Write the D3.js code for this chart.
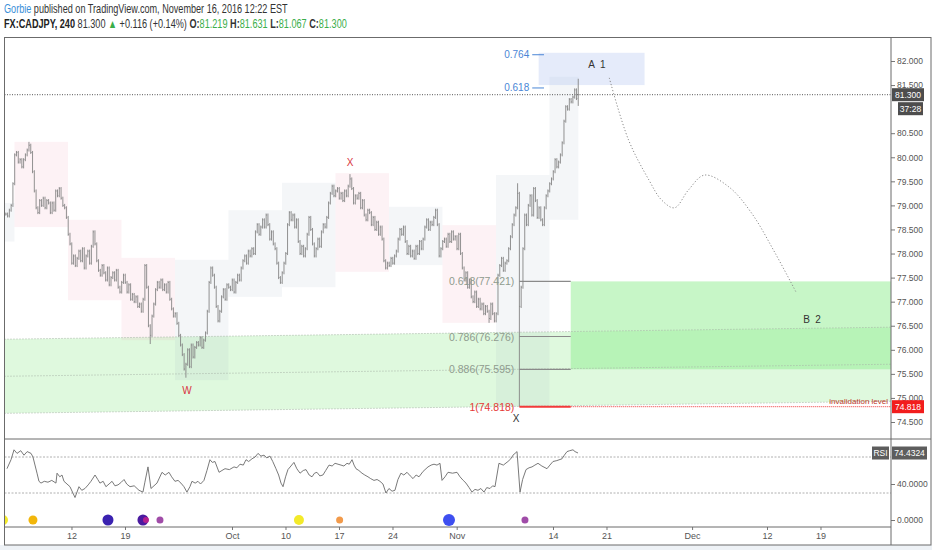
<!DOCTYPE html>
<html>
<head>
<meta charset="utf-8">
<script src="https://cdn.jsdelivr.net/npm/d3@7"></script>
<style>
  body { margin: 0; background: #fff; }
  svg text { font-family: "Liberation Sans", Arial, sans-serif; }
</style>
</head>
<body>
<svg id="chart" width="932" height="550"></svg>
<script>
// ---- data (days = trading days counted from Mon Sep 12 2016, 6 x 4h bars per day) ----
const firstDay = -6; // Fri Sep 2
const closes = [
  [78.82, 78.78, 78.90, 79.00, 79.45, 80.05],
  [80.10, 79.90, 79.95, 79.80, 79.95, 80.05],
  [80.15, 80.25, 80.10, 79.70, 79.30, 78.95],
  [78.85, 79.10, 79.00, 79.15, 78.95, 79.10],
  [79.05, 78.85, 79.05, 78.90, 79.30, 79.20],
  [79.35, 79.15, 79.00, 78.95, 78.75, 78.40],
  [78.20, 77.80, 77.95, 77.75, 77.90, 78.05], // Sep 12
  [77.85, 78.10, 77.70, 77.95, 78.05, 77.80],
  [78.15, 78.45, 78.20, 77.85, 77.65, 77.55],
  [77.75, 77.60, 77.45, 77.70, 77.35, 77.50],
  [77.60, 77.45, 77.65, 77.30, 77.20, 77.40],
  [77.55, 77.40, 77.20, 77.35, 77.05, 77.15], // Sep 19
  [77.00, 77.10, 76.90, 76.95, 76.80, 77.05],
  [77.75, 77.30, 76.50, 76.30, 76.70, 76.95],
  [77.25, 77.40, 77.30, 77.45, 77.25, 77.35],
  [77.20, 77.40, 77.05, 76.85, 76.70, 76.75],
  [76.55, 76.30, 76.10, 75.90, 75.60, 75.70], // Sep 26
  [76.00, 75.65, 76.10, 75.85, 76.05, 76.15],
  [76.10, 76.25, 76.05, 76.20, 76.35, 76.80],
  [77.40, 77.70, 77.55, 77.30, 76.90, 76.60],
  [76.80, 77.10, 77.25, 77.05, 77.35, 77.30],
  [77.25, 77.45, 77.20, 77.40, 77.55, 77.45], // Oct 3
  [77.70, 77.85, 77.95, 77.80, 78.05, 77.95],
  [78.10, 78.00, 78.45, 78.60, 78.40, 78.55],
  [78.70, 78.55, 78.80, 78.60, 78.30, 78.45],
  [78.20, 78.10, 77.80, 77.50, 77.40, 77.60],
  [77.80, 78.00, 78.60, 78.85, 78.70, 78.80], // Oct 10
  [78.55, 78.70, 78.25, 78.00, 78.15, 77.95],
  [78.10, 78.40, 78.75, 78.50, 78.20, 77.95],
  [78.10, 78.30, 78.15, 78.45, 78.60, 78.55],
  [78.75, 79.05, 79.25, 79.40, 79.20, 79.30],
  [79.35, 79.15, 79.25, 79.10, 79.30, 79.20], // Oct 17
  [79.40, 79.55, 79.35, 79.05, 79.20, 79.15],
  [79.25, 78.95, 79.10, 78.80, 78.70, 78.90],
  [78.85, 78.60, 78.75, 78.50, 78.65, 78.40],
  [78.55, 78.30, 77.85, 77.70, 77.80, 77.75],
  [77.90, 77.80, 77.95, 78.05, 78.30, 78.50], // Oct 24
  [78.40, 78.55, 78.25, 78.00, 78.15, 77.95],
  [78.05, 77.90, 78.15, 78.00, 78.25, 78.10],
  [78.30, 78.55, 78.70, 78.50, 78.65, 78.60],
  [78.75, 78.90, 78.60, 77.95, 78.10, 78.25],
  [78.30, 78.15, 78.40, 78.25, 78.45, 78.30], // Oct 31
  [78.35, 78.10, 78.40, 78.00, 77.70, 77.45],
  [77.60, 77.30, 77.45, 77.10, 77.00, 77.20],
  [76.90, 77.05, 76.85, 76.95, 76.75, 76.90],
  [76.80, 76.65, 76.95, 76.75, 76.60, 76.75],
  [77.55, 77.75, 77.90, 77.65, 77.80, 77.85], // Nov 7
  [78.10, 78.35, 78.60, 78.80, 78.95, 79.25],
  [76.90, 77.30, 78.10, 78.80, 78.60, 79.00],
  [79.20, 78.80, 79.35, 79.10, 78.75, 78.95],
  [78.70, 78.60, 78.95, 79.20, 79.30, 79.45],
  [79.55, 79.70, 79.95, 79.80, 79.90, 80.05], // Nov 14
  [80.30, 80.75, 81.05, 81.00, 81.20, 81.15],
  [81.25, 81.40, 81.22, 81.30]
];
// wick extremes: [day, bar, price]
const spikes = [
  [-4, 1, 80.32], [7, 3, 76.12], [10, 5, 75.42], [26, 1, 79.65],
  [39, 1, 76.56], [41, 5, 79.46], [42, 0, 74.818], [47, 3, 81.631], [47, 3, 81.067]
];

// weekly range boxes
const weekStarts = [-7, -5, 0, 5, 10, 15, 20, 25, 30, 35, 40, 45];
const weekEnds   = [-5, 0, 5, 10, 15, 20, 25, 30, 35, 40, 45, 47.7];
const weekHighs  = [79.05, 80.32, 78.70, 77.91, 77.87, 78.90, 79.47, 79.67, 78.97, 78.59, 79.63, 81.67];
const weekLows   = [78.25, 78.55, 77.03, 76.20, 75.37, 77.10, 77.30, 77.62, 77.76, 76.56, 74.818, 78.70];
const weekKinds  = ['up', 'down', 'down', 'down', 'up', 'up', 'up', 'down', 'up', 'down', 'up', 'up'];

// rising support channel
const channelDays   = [-6.12, 76.73];
const channelTop    = [76.22, 76.47];
const channelMid    = [75.45, 75.70];
const channelBottom = [74.68, 74.93];

// fib retracement from X low
const fibDays = [42, 46.8];
const fibLevels = [0.618, 0.786, 0.886, 1];
const fibPrices = [77.421, 76.276, 75.595, 74.818];

// fib extension marks near A
const extDays = [43.2, 44.3];
const extLevels = [0.764, 0.618];
const extPrices = [82.13, 81.44];

// target zones
const targetBox = { start: 46.8, high: 77.421, low: 75.595 };
const aBox = { start: 43.8, end: 53.7, high: 82.17, low: 81.50 };

// projected path A -> B
const pathDays   = [50.4, 52.2, 54.1, 55.3, 56.5, 57.8, 59.3, 61.6, 63.7, 65.9, 67.9];
const pathPrices = [81.65, 80.36, 79.53, 79.11, 78.95, 79.32, 79.63, 79.38, 78.84, 78.01, 77.18];

// wave labels
const waveText   = ['W', 'X', 'X', 'A  1', 'B  2'];
const waveDays   = [10.93, 26.17, 41.68, 49.25, 69.35];
const wavePrices = [75.16, 79.90, 74.58, 81.94, 76.64];
const waveKinds  = ['red', 'red', 'dark', 'dark', 'dark'];

const lastPrice = 81.300;
const invalidation = 74.818;

// RSI
const rsiPoints = [
  [-5.89,57],[-5.51,67],[-5.23,78],[-4.95,74],[-4.6,77],[-4.3,72],[-4.0,76],[-3.64,74],[-3.46,70],[-3.08,52],
  [-2.90,43],[-2.71,41],[-2.4,43],[-2.06,42],[-1.7,44],[-1.31,41],[-1.21,52],[-0.95,48],[-0.75,50],[-0.56,43],
  [0,37],[0.47,25],[0.84,37],[1.1,33],[1.40,35],[1.7,39],[1.96,43],[2.34,50],[2.6,45],[2.80,41],
  [3.1,43],[3.36,37],[3.65,40],[3.93,43],[4.2,38],[4.49,39],[4.8,42],[5.05,45],[5.3,40],[5.61,37],
  [6.0,38],[6.45,33],[6.82,31],[7.0,42],[7.29,59],[7.57,35],[7.85,38],[8.13,41],[8.60,53],[8.9,50],
  [9.25,53],[9.5,48],[9.81,43],[10.1,44],[10.37,41],[10.65,37],[10.93,31],[11.21,37],[11.40,43],[11.7,41],
  [11.96,43],[12.2,40],[12.52,44],[12.8,55],[13.08,67],[13.3,64],[13.55,65],[13.93,53],[14.2,55],[14.49,57],
  [14.9,56],[15.33,59],[15.6,58],[15.89,62],[16.2,61],[16.45,67],[16.7,65],[17.01,68],[17.3,70],[17.57,74],
  [17.85,71],[18.13,72],[18.4,69],[18.69,71],[18.95,65],[19.25,57],[19.5,50],[19.72,41],[19.91,37],[20.15,48],
  [20.37,56],[20.65,60],[20.93,64],[21.2,57],[21.50,52],[21.8,55],[22.06,56],[22.35,50],[22.62,48],[22.85,52],
  [23.08,53],[23.35,49],[23.64,50],[23.9,55],[24.21,61],[24.5,60],[24.77,63],[25.05,62],[25.33,61],[25.6,60],
  [25.89,63],[26.1,62],[26.36,67],[26.55,61],[26.73,57],[27.0,55],[27.29,52],[27.55,50],[27.85,48],[28.1,46],
  [28.41,44],[28.7,45],[28.97,43],[29.25,40],[29.53,30],[29.81,35],[30.1,32],[30.37,33],[30.65,45],[30.93,52],
  [31.2,50],[31.50,53],[31.8,49],[32.06,46],[32.35,50],[32.62,48],[33.0,54],[33.46,59],[33.75,61],[34.02,62],
  [34.3,61],[34.58,63],[34.77,44],[35.05,48],[35.33,53],[35.75,52],[36.17,53],[36.45,48],[36.75,44],[37.01,41],
  [37.3,36],[37.57,31],[37.85,34],[38.13,33],[38.4,35],[38.69,31],[38.95,36],[39.25,35],[39.5,38],[39.72,37],
  [40.09,63],[40.5,61],[40.93,65],[41.2,68],[41.40,72],[41.78,76],[42.06,31],[42.3,45],[42.62,56],[42.9,58],
  [43.18,59],[43.45,61],[43.74,63],[44.1,60],[44.58,57],[44.85,61],[45.14,65],[45.5,66],[45.98,68],[46.2,72],
  [46.45,76],[46.7,77],[47.01,78],[47.2,76],[47.48,74.43]
];
const rsiLast = 74.4324;
const rsiTicks = [0, 40];
const rsiBands = [30, 70];

// event markers at the bottom of the RSI pane
const eventDays  = [-6.26, -3.46, 3.55, 6.82, 7.1, 8.41, 21.4, 25.2, 35.42, 42.52];
const eventKinds = ['yellow', 'amber', 'indigo', 'violet', 'magenta', 'purple', 'yellow', 'orange', 'blue', 'purple'];

// axes (81.000 sits under the countdown tag in the original)
const priceTicks = [74.5, 75, 75.5, 76, 76.5, 77, 77.5, 78, 78.5, 79, 79.5, 80, 80.5, 81.5, 82];
const tickDays = [0, 5, 15, 20, 25, 30, 36, 45, 50, 58, 65, 70];
const tickLabels = ['12', '19', 'Oct', '10', '17', '24', 'Nov', '14', '21', 'Dec', '12', '19'];

// ---- layout ----
const plotLeft = 4.5, plotRight = 891, frameRight = 931;
const mainTop = 37.5, mainBottom = 439, rsiBottom = 527, axisBottom = 545;

const eventStyle = {
  yellow:  { fill: '#f3ea2a', r: 5 },
  amber:   { fill: '#f2b60a', r: 4.5 },
  indigo:  { fill: '#3a22b0', r: 5.5 },
  violet:  { fill: '#4a1aa0', r: 5.5 },
  magenta: { fill: '#b3208f', r: 3 },
  purple:  { fill: '#a04ca8', r: 3.5 },
  orange:  { fill: '#f29a4a', r: 3.5 },
  blue:    { fill: '#3e4ff0', r: 6 }
};

const svg = d3.select('#chart');

const x = d3.scaleLinear().domain([-6.12, 76.73]).range([plotLeft, plotRight]);
const y = d3.scaleLinear().domain([74.5, 82]).range([422, 61]);
const ry = d3.scaleLinear().domain([0, 80]).range([520, 448]);

const defs = svg.append('defs');
defs.append('clipPath').attr('id', 'mainClip').append('rect')
  .attr('x', plotLeft).attr('y', mainTop).attr('width', plotRight - plotLeft).attr('height', mainBottom - mainTop);
defs.append('clipPath').attr('id', 'rsiClip').append('rect')
  .attr('x', plotLeft).attr('y', mainBottom).attr('width', plotRight - plotLeft).attr('height', rsiBottom - mainBottom);

// bottom strip
svg.append('rect').attr('x', 0).attr('y', axisBottom).attr('width', 932).attr('height', 550 - axisBottom).attr('fill', '#eef2f6');

const main = svg.append('g').attr('clip-path', 'url(#mainClip)');

// channel fill
const chanPoly = [
  [x(channelDays[0]), y(channelTop[0])], [x(channelDays[1]), y(channelTop[1])],
  [x(channelDays[1]), y(channelBottom[1])], [x(channelDays[0]), y(channelBottom[0])]
];
main.append('polygon').attr('points', chanPoly.map(p => p.join(',')).join(' '))
  .attr('fill', 'rgba(150,235,145,0.3)');

// weekly boxes
weekStarts.forEach((s, i) => {
  main.append('rect')
    .attr('x', x(s) - 2).attr('width', x(weekEnds[i]) - x(s))
    .attr('y', y(weekHighs[i])).attr('height', y(weekLows[i]) - y(weekHighs[i]))
    .attr('fill', weekKinds[i] === 'up' ? 'rgba(150,165,185,0.1)' : 'rgba(240,128,160,0.1)');
});

// target box and A box
main.append('rect')
  .attr('x', x(targetBox.start)).attr('width', plotRight - x(targetBox.start))
  .attr('y', y(targetBox.high)).attr('height', y(targetBox.low) - y(targetBox.high))
  .attr('fill', 'rgba(144,238,144,0.5)');
main.append('rect')
  .attr('x', x(aBox.start)).attr('width', x(aBox.end) - x(aBox.start))
  .attr('y', y(aBox.high)).attr('height', y(aBox.low) - y(aBox.high))
  .attr('fill', 'rgba(170,190,240,0.3)');

// channel lines
[channelTop, channelMid, channelBottom].forEach(line => {
  main.append('line')
    .attr('x1', x(channelDays[0])).attr('y1', y(line[0]))
    .attr('x2', x(channelDays[1])).attr('y2', y(line[1]))
    .attr('stroke', '#a8b4a8').attr('stroke-width', 1).attr('stroke-dasharray', '1,2');
});

// last price line
main.append('line')
  .attr('x1', plotLeft).attr('x2', plotRight).attr('y1', y(lastPrice)).attr('y2', y(lastPrice))
  .attr('stroke', '#555').attr('stroke-dasharray', '1,1.5');

// fib retracement lines
fibLevels.forEach((lv, i) => {
  if (lv === 1) return;
  main.append('line')
    .attr('x1', x(fibDays[0])).attr('x2', x(fibDays[1]))
    .attr('y1', y(fibPrices[i])).attr('y2', y(fibPrices[i]))
    .attr('stroke', '#8a8a8a').attr('stroke-width', 1.2);
});

// bars
const bars = [];
closes.forEach((row, r) => {
  row.forEach((c, j) => {
    const prev = bars.length ? bars[bars.length - 1].close : c;
    bars.push({ day: firstDay + r, j, t: firstDay + r + j / 6, open: prev, close: c,
      high: Math.max(prev, c), low: Math.min(prev, c), hs: false, ls: false });
  });
});
spikes.forEach(([day, j, p]) => {
  const b = bars.find(b => b.day === day && b.j === j);
  if (!b) return;
  if (p > b.high) { b.high = p; b.hs = true; }
  if (p < b.low) { b.low = p; b.ls = true; }
});
const wick = 1.5;
const barG = main.append('g').attr('stroke', '#858585').attr('stroke-width', 0.9);
bars.forEach(b => {
  const bx = x(b.t);
  barG.append('line').attr('x1', bx).attr('x2', bx)
    .attr('y1', y(b.high) - (b.hs ? 0 : wick)).attr('y2', y(b.low) + (b.ls ? 0 : wick));
  barG.append('line').attr('x1', bx).attr('x2', bx + 0.9).attr('y1', y(b.close)).attr('y2', y(b.close));
});

// projected path
main.append('path')
  .datum(pathDays.map((d, i) => [d, pathPrices[i]]))
  .attr('d', d3.line().x(d => x(d[0])).y(d => y(d[1])).curve(d3.curveCatmullRom.alpha(0.5)))
  .attr('fill', 'none').attr('stroke', '#8a8a8a').attr('stroke-width', 1).attr('stroke-dasharray', '1.2,2');

// invalidation line
main.append('line')
  .attr('x1', x(fibDays[0])).attr('x2', x(fibDays[1]))
  .attr('y1', y(invalidation)).attr('y2', y(invalidation))
  .attr('stroke', '#f23a3a').attr('stroke-width', 2);
main.append('line')
  .attr('x1', x(fibDays[1])).attr('x2', plotRight)
  .attr('y1', y(invalidation)).attr('y2', y(invalidation))
  .attr('stroke', '#e33').attr('stroke-width', 1).attr('stroke-dasharray', '1,1');
main.append('text')
  .attr('x', plotRight - 3).attr('y', y(invalidation) - 3)
  .attr('text-anchor', 'end').attr('font-size', 8).attr('fill', '#c0392b')
  .text('invalidation level');

// fib retracement labels
fibLevels.forEach((lv, i) => {
  main.append('text')
    .attr('x', x(fibDays[0]) - 5).attr('y', y(fibPrices[i]) + 4)
    .attr('text-anchor', 'end').attr('font-size', 10.5)
    .attr('fill', lv === 1 ? '#e53935' : '#8f9b8f')
    .text(`${lv}(${fibPrices[i].toFixed(3)})`);
});

// fib extension marks
extLevels.forEach((lv, i) => {
  main.append('line')
    .attr('x1', x(extDays[0])).attr('x2', x(extDays[1]))
    .attr('y1', y(extPrices[i])).attr('y2', y(extPrices[i]))
    .attr('stroke', '#4a86d6').attr('stroke-width', 1);
  main.append('text')
    .attr('x', x(extDays[0]) - 3).attr('y', y(extPrices[i]) + 3.5)
    .attr('text-anchor', 'end').attr('font-size', 10).attr('fill', '#4a86d6')
    .text(lv.toFixed(3));
});

// wave labels
waveText.forEach((t, i) => {
  main.append('text')
    .attr('x', x(waveDays[i])).attr('y', y(wavePrices[i]) + 4)
    .attr('text-anchor', 'middle').attr('font-size', 10)
    .attr('fill', waveKinds[i] === 'red' ? '#d9363e' : '#333')
    .style('white-space', 'pre')
    .text(t);
});

// ---- RSI pane ----
const rsiG = svg.append('g').attr('clip-path', 'url(#rsiClip)');
rsiBands.forEach(v => {
  rsiG.append('line').attr('x1', plotLeft).attr('x2', plotRight).attr('y1', ry(v)).attr('y2', ry(v))
    .attr('stroke', '#b0b0b0').attr('stroke-dasharray', '2,1.5');
});
rsiG.append('path')
  .datum(rsiPoints)
  .attr('d', d3.line().x(d => x(d[0])).y(d => ry(d[1])))
  .attr('fill', 'none').attr('stroke', '#6a6a6a').attr('stroke-width', 0.9);
eventDays.forEach((d, i) => {
  const st = eventStyle[eventKinds[i]];
  rsiG.append('circle').attr('cx', x(d)).attr('cy', ry(0)).attr('r', st.r).attr('fill', st.fill);
});

// ---- axes ----
const priceAxis = svg.append('g').attr('transform', `translate(${plotRight},0)`)
  .call(d3.axisRight(y).tickValues(priceTicks).tickFormat(d3.format('.3f')).tickSize(4).tickPadding(2));
const rsiAxis = svg.append('g').attr('transform', `translate(${plotRight},0)`)
  .call(d3.axisRight(ry).tickValues(rsiTicks).tickFormat(d3.format('.4f')).tickSize(4).tickPadding(2));
const timeAxis = svg.append('g').attr('transform', `translate(1.5,${rsiBottom})`)
  .call(d3.axisBottom(x).tickValues(tickDays).tickFormat((d, i) => tickLabels[i]).tickSize(3).tickPadding(3));
[priceAxis, rsiAxis, timeAxis].forEach(g => {
  g.select('.domain').remove();
  g.selectAll('line').attr('stroke', '#777');
  g.selectAll('text').attr('fill', '#555').attr('font-family', '"Liberation Sans", Arial, sans-serif');
});
priceAxis.selectAll('text').attr('font-size', 8.5);
rsiAxis.selectAll('text').attr('font-size', 8.5);
timeAxis.selectAll('text').attr('font-size', 9);

// ---- frame ----
const frame = svg.append('g').attr('stroke', '#6b6b6b').attr('stroke-width', 1).attr('fill', 'none');
frame.append('rect').attr('x', plotLeft).attr('y', mainTop).attr('width', frameRight - plotLeft).attr('height', axisBottom - mainTop);
frame.append('line').attr('x1', plotRight).attr('x2', plotRight).attr('y1', mainTop).attr('y2', axisBottom);
frame.append('line').attr('x1', plotLeft).attr('x2', frameRight).attr('y1', mainBottom).attr('y2', mainBottom);
frame.append('line').attr('x1', plotLeft).attr('x2', plotRight).attr('y1', rsiBottom).attr('y2', rsiBottom);

// ---- value tags ----
function tag(x0, w, yc, label, fill) {
  svg.append('rect').attr('x', x0).attr('y', yc - 6.5).attr('width', w).attr('height', 13).attr('fill', fill);
  svg.append('text').attr('x', x0 + w / 2).attr('y', yc + 3).attr('text-anchor', 'middle')
    .attr('font-size', 8.5).attr('fill', '#fff').text(label);
}
tag(892, 32, y(lastPrice), lastPrice.toFixed(3), '#4d4d4d');
tag(898, 25, y(lastPrice) + 14, '37:28', '#4d4d4d');
tag(892, 32, y(invalidation), invalidation.toFixed(3), '#f21d1d');
tag(872, 17, ry(rsiLast), 'RSI', '#5d5d5d');
tag(892, 35, ry(rsiLast), rsiLast.toFixed(4), '#5d5d5d');

// ---- header ----
const headFont = '"Liberation Sans Narrow", "DejaVu Sans Condensed", Arial, sans-serif';
function fitLine(el, x0, yb, width) {
  const w = el.node().getComputedTextLength();
  el.attr('transform', `translate(${x0},${yb}) scale(${width / w},1)`);
}
const h1 = svg.append('text').attr('x', 0).attr('y', 0).attr('font-size', 12).attr('font-family', headFont).attr('fill', '#333');
h1.append('tspan').attr('fill', '#3a8fd8').text('Gorbie');
h1.append('tspan').text(' published on TradingView.com, November 16, 2016 12:22 EST');
fitLine(h1, 4, 13, 284);

const green = '#3aae4a';
const h2 = svg.append('text').attr('x', 0).attr('y', 0).attr('font-size', 12).attr('font-family', headFont).attr('fill', '#333');
h2.append('tspan').attr('font-weight', 'bold').attr('fill', '#222').text('FX:CADJPY, 240');
h2.append('tspan').text(' 81.300 ');
h2.append('tspan').attr('fill', green).text('▲');
h2.append('tspan').text(' +0.116 (+0.14%) ');
[['O:', '81.219'], ['H:', '81.631'], ['L:', '81.067'], ['C:', '81.300']].forEach(([k, v], i) => {
  h2.append('tspan').attr('font-weight', 'bold').attr('fill', '#333').text((i ? ' ' : '') + k);
  h2.append('tspan').attr('fill', green).text(v);
});
fitLine(h2, 4, 28, 343);
</script>
</body>
</html>
